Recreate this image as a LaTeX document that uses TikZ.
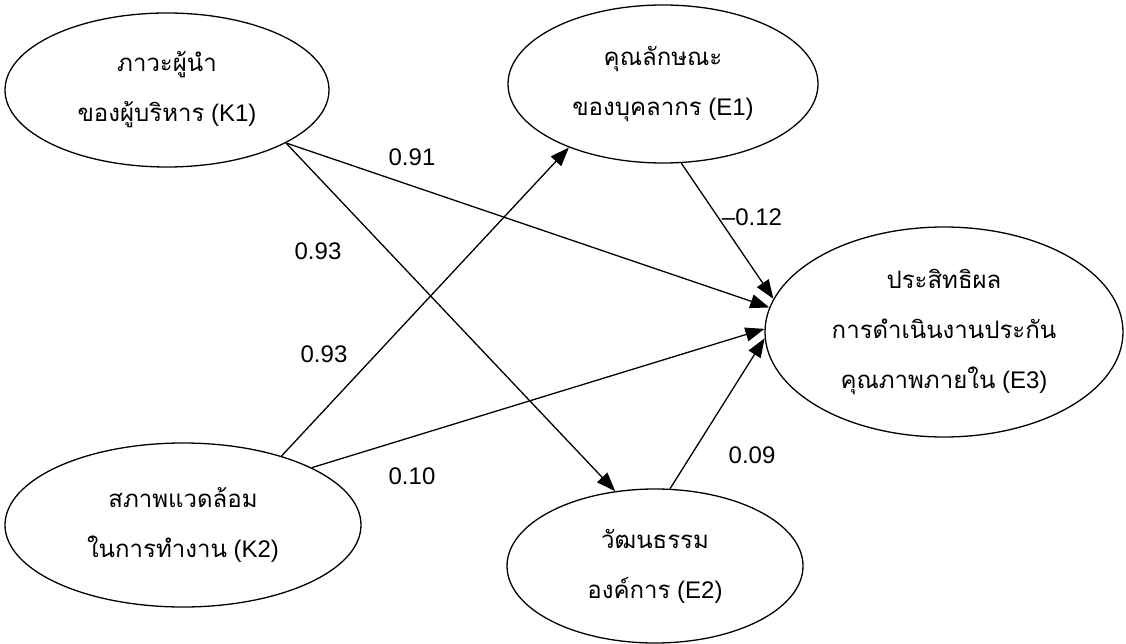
\documentclass[tikz,border=0pt]{standalone}
\usepackage{fontspec}
\setmainfont{Liberation Sans}
\newfontfamily\thai[Script=Thai]{Loma}
\usetikzlibrary{shapes.geometric,arrows.meta}
\begin{document}
\begin{tikzpicture}[x=1pt,y=-1pt,
  latent/.style={ellipse,draw,line width=1.3pt,inner sep=0pt,align=center,
    font=\fontsize{24}{50}\selectfont},
  pathline/.style={line width=1.3pt,-{Triangle[length=19pt,width=14pt]}},
  coef/.style={font=\fontsize{24}{28}\selectfont,inner sep=0pt}]
\useasboundingbox (0,0) rectangle (1126,644);

% latent variables
\node[latent,minimum width=324pt,minimum height=154pt] (K1) at (167,90)
  {{\thai ภาวะผู้นำ}\\{\thai ของผู้บริหาร} (K1)};
\node[latent,minimum width=356pt,minimum height=164pt] (K2) at (183,525)
  {{\thai สภาพแวดล้อม}\\{\thai ในการทำงาน} (K2)};
\node[latent,minimum width=310pt,minimum height=158pt] (E1) at (663,84)
  {{\thai คุณลักษณะ}\\{\thai ของบุคลากร} (E1)};
\node[latent,minimum width=296pt,minimum height=154pt] (E2) at (655,566)
  {{\thai วัฒนธรรม}\\{\thai องค์การ} (E2)};
\node[latent,minimum width=358pt,minimum height=210pt] (E3) at (944,332)
  {{\thai ประสิทธิผล}\\{\thai การดำเนินงานประกัน}\\{\thai คุณภาพภายใน} (E3)};

% structural paths
\draw[pathline] (K1.-24.7) -- (E3.172.7);
\draw[pathline] (K1.-24.7) -- (E2.118.6);
\draw[pathline] (K2.35) -- (E1.-146.4);
\draw[pathline] (K2.24.2) -- (E3.179.7);
\draw[pathline] (E1.-77.9) -- (E3.169.8);
\draw[pathline] (E2.79) -- (E3.182.5);

% path coefficients
\node[coef] (c1) at (412,157) {0.91};
\node[coef] (c2) at (318,251) {0.93};
\node[coef] (c3) at (324,354) {0.93};
\node[coef] (c4) at (412,476) {0.10};
\node[coef] (c5) at (752,217) {–0.12};
\node[coef] (c6) at (752,455) {0.09};
\end{tikzpicture}
\end{document}
